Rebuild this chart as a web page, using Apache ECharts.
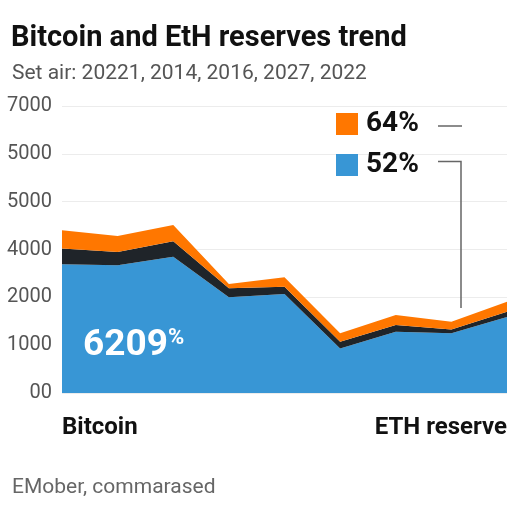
<!DOCTYPE html>
<html>
<head>
<meta charset="utf-8">
<script src="https://cdn.jsdelivr.net/npm/echarts@6/dist/echarts.min.js"></script>
<style>
  html, body { margin: 0; padding: 0; background: #fff; }
  #chart { width: 512px; height: 512px; }
</style>
</head>
<body>
<div id="chart"></div>
<script>
// data
var categories = ['Bitcoin', '', '', '', '', '', '', '', 'ETH reserve'];
var btcValues = [2690, 2670, 2850, 2000, 2070, 930, 1280, 1250, 1590];
var darkValues = [330, 280, 320, 190, 150, 140, 140, 80, 110];
var ethValues = [380, 330, 340, 90, 200, 180, 210, 160, 210];
var yTickLabels = ['00', '1000', '2000', '4000', '5000', '5000', '7000'];
var legendNames = ['64%', '52%'];

var chart = echarts.init(document.getElementById('chart'));

var option = {
  backgroundColor: '#fff',
  animation: false,
  textStyle: { fontFamily: 'Roboto' },
  title: [
    {
      text: 'Bitcoin and EtH reserves trend',
      left: 6,
      top: 19,
      textStyle: { fontSize: 29, fontWeight: 'bold', color: '#111' }
    },
    {
      text: 'Set air: 20221, 2014, 2016, 2027, 2022',
      left: 7,
      top: 58,
      textStyle: { fontSize: 21, fontWeight: 'normal', color: '#555' }
    },
    {
      text: 'EMober, commarased',
      left: 7,
      top: 472,
      textStyle: { fontSize: 21, fontWeight: 'normal', color: '#666' }
    }
  ],
  legend: {
    data: legendNames,
    orient: 'vertical',
    left: 331,
    top: 105,
    itemWidth: 22,
    itemHeight: 22,
    itemGap: 13,
    icon: 'rect',
    selectedMode: false,
    textStyle: { fontSize: 28, fontWeight: 'bold', color: '#111', padding: [0, 0, 0, 3] }
  },
  grid: { left: 62, right: 5, top: 106, bottom: 119 },
  xAxis: {
    type: 'category',
    data: categories,
    boundaryGap: false,
    axisLine: { show: false },
    axisTick: { show: false },
    axisLabel: {
      interval: 0,
      margin: 23,
      fontSize: 24,
      fontWeight: 'bold',
      color: '#111',
      alignMinLabel: 'left',
      alignMaxLabel: 'right'
    }
  },
  yAxis: {
    type: 'value',
    min: 0,
    max: 6000,
    interval: 1000,
    axisLine: { show: false },
    axisTick: { show: false },
    splitLine: { lineStyle: { color: '#ececec', width: 1 } },
    axisLabel: {
      margin: 10,
      fontSize: 20,
      color: '#555',
      formatter: function (v) { return yTickLabels[Math.round(v / 1000)]; }
    }
  },
  series: [
    {
      name: '52%',
      type: 'line',
      stack: 'total',
      data: btcValues,
      showSymbol: false,
      lineStyle: { width: 0 },
      itemStyle: { color: '#3896d5' },
      areaStyle: { color: '#3896d5', opacity: 1 }
    },
    {
      name: 'dark',
      type: 'line',
      stack: 'total',
      data: darkValues,
      showSymbol: false,
      lineStyle: { width: 0 },
      itemStyle: { color: '#1f2429' },
      areaStyle: { color: '#1f2429', opacity: 1 }
    },
    {
      name: '64%',
      type: 'line',
      stack: 'total',
      data: ethValues,
      showSymbol: false,
      lineStyle: { width: 0 },
      itemStyle: { color: '#ff7700' },
      areaStyle: { color: '#ff7700', opacity: 1 }
    }
  ],
  graphic: [
    {
      type: 'text',
      z: 100,
      left: 83,
      top: 327,
      style: {
        text: '{a|6209}{b|%}',
        rich: {
          a: { fontSize: 37, fontWeight: 'bold', fill: '#fff', fontFamily: 'Roboto' },
          b: { fontSize: 22, fontWeight: 'bold', fill: '#fff', fontFamily: 'Roboto', verticalAlign: 'top', padding: [0, 0, 12, 0] }
        }
      }
    },
    {
      type: 'line',
      z: 100,
      shape: { x1: 438, y1: 126, x2: 462, y2: 126 },
      style: { stroke: '#666', lineWidth: 1.5 }
    },
    {
      type: 'polyline',
      z: 100,
      shape: { points: [[438, 161.5], [461, 161.5], [461, 308]] },
      style: { stroke: '#666', lineWidth: 1.5, fill: null }
    }
  ]
};

chart.setOption(option);
</script>
</body>
</html>
